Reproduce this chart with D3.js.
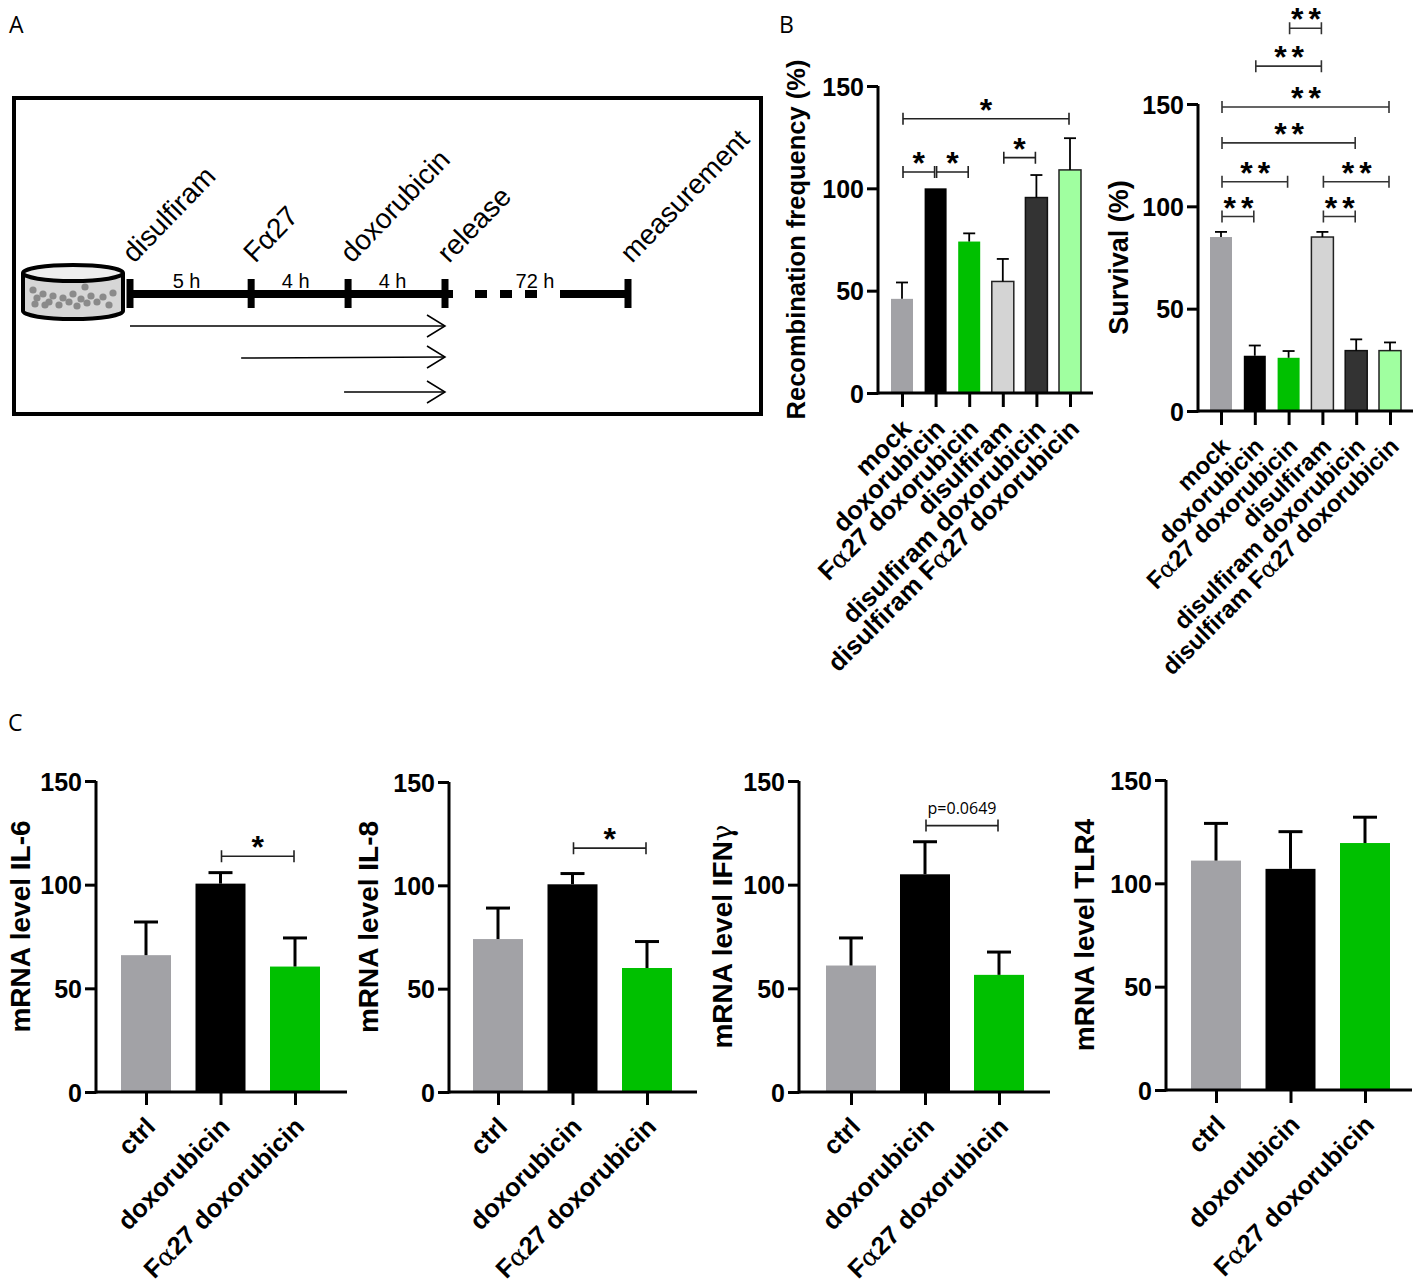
<!DOCTYPE html>
<meta charset="utf-8">
<style>
  body { margin: 0; background: #fff; }
  svg { font-family: "Liberation Sans", Arial, sans-serif; }
  .axis path, .axis line { stroke: #000; stroke-width: 3px; }
  .tick text { font-weight: bold; fill: #000; }
  .panel { font-family: "Open Sans", sans-serif; font-size: 23px; }
</style>
<body>
<script src="https://cdn.jsdelivr.net/npm/d3@7"></script>
<script>

// ---- data ----
var bCats = ["mock", "doxorubicin", "Fα27 doxorubicin", "disulfiram",
             "disulfiram doxorubicin", "disulfiram Fα27 doxorubicin"];
var bColors = ["#a2a2a6", "#000000", "#00c000", "#d4d4d4", "#333333", "#a0ffa0"];
var bStrokes = [null, null, null, "#222", "#111", "#222"];

var recombMean = [46, 100, 74, 54.5, 95.5, 109];
var recombSem = [8, 0, 4, 11, 11, 15.5];
var recombSig = [[0, 1, 108, "*"], [1, 2, 108, "*"], [3, 4, 115, "*"], [0, 5, 134, "*"]];

var survivalMean = [85, 27, 26, 85, 29.5, 29.5];
var survivalSem = [2.5, 5, 3.3, 2.5, 5.5, 4];
var survivalSig = [[0, 1, 95, "**"], [0, 2, 112, "**"], [0, 4, 131, "**"], [0, 5, 148.5, "**"],
                   [1, 3, 168.5, "**"], [2, 3, 187, "**"], [3, 4, 95, "**"], [3, 5, 112, "**"]];

var cCats = ["ctrl", "doxorubicin", "Fα27 doxorubicin"];
var cColors = ["#a2a2a6", "#000000", "#00c000"];
var il6Mean = [66, 100.5, 60.5],  il6Sem = [16, 5.3, 13.8];
var il8Mean = [74, 100.5, 60],    il8Sem = [15, 5.2, 12.8];
var ifngMean = [61, 105, 56.5],   ifngSem = [13.3, 15.7, 11];
var tlr4Mean = [111, 107, 119.5], tlr4Sem = [18, 18, 12.5];

var yTicks = [0, 50, 100, 150];

// timeline of panel A (hours)
var steps = [
  {name: "disulfiram", t: 0},
  {name: "Fα27", t: 5},
  {name: "doxorubicin", t: 9},
  {name: "release", t: 13}
];
var durations = ["5 h", "4 h", "4 h"];
var treatStart = [0, 5, 9];

var svg = d3.select("body").append("svg")
    .attr("width", 1420).attr("height", 1284);

// panel letters
svg.append("text").attr("class", "panel").attr("x", 9).attr("y", 33).text("A");
svg.append("text").attr("class", "panel").attr("x", 779).attr("y", 33).text("B");
svg.append("text").attr("class", "panel").attr("x", 8).attr("y", 731).text("C");

// write a label, putting greek letters in a serif face like the original
function greekText(sel, str) {
  var parts = str.split(/([αγ])/);
  parts.forEach(function(p) {
    if (p === "α" || p === "γ") {
      sel.append("tspan").style("font-family", "DejaVu Serif, serif")
          .style("font-weight", "normal").text(p);
    } else if (p) {
      sel.append("tspan").text(p);
    }
  });
}

// ---- panel A ----
function drawSchema() {
  var g = svg.append("g");
  g.append("rect").attr("x", 14).attr("y", 98).attr("width", 747).attr("height", 316)
      .attr("fill", "none").attr("stroke", "#000").attr("stroke-width", 4);

  // dish
  var cx = 73;
  g.append("path")
      .attr("d", "M23,273 L23,311 A50,8 0 0 0 123,311 L123,273")
      .attr("fill", "#d6d6d6").attr("stroke", "#000").attr("stroke-width", 4);
  g.append("ellipse").attr("cx", cx).attr("cy", 273).attr("rx", 50).attr("ry", 8)
      .attr("fill", "#eee").attr("stroke", "#000").attr("stroke-width", 4);
  var dots = [[-40, 290], [-36, 298], [-30, 294], [-24, 302], [-20, 296], [-14, 305],
              [-10, 298], [-4, 302], [0, 294], [4, 306], [8, 299], [14, 303], [18, 296],
              [24, 302], [30, 297], [36, 305], [40, 293], [-28, 305], [12, 287], [-38, 304]];
  g.selectAll(".dot").data(dots).enter().append("circle")
      .attr("cx", function(d) { return cx + d[0]; }).attr("cy", function(d) { return d[1]; })
      .attr("r", 3.6).attr("fill", "#8a8a8a");

  var x = d3.scaleLinear().domain([0, 13]).range([130, 445]);
  var xMeas = 628, ly = 294;

  g.append("line").attr("x1", x(0)).attr("x2", x(13) + 8).attr("y1", ly).attr("y2", ly)
      .attr("stroke", "#000").attr("stroke-width", 8);
  g.append("line").attr("x1", x(13) + 30).attr("x2", 546).attr("y1", ly).attr("y2", ly)
      .attr("stroke", "#000").attr("stroke-width", 8).attr("stroke-dasharray", "12,13");
  g.append("line").attr("x1", 560).attr("x2", xMeas).attr("y1", ly).attr("y2", ly)
      .attr("stroke", "#000").attr("stroke-width", 8);

  var tickX = steps.map(function(s) { return x(s.t); }).concat([xMeas]);
  g.selectAll(".tl").data(tickX).enter().append("line")
      .attr("x1", function(d) { return d; }).attr("x2", function(d) { return d; })
      .attr("y1", ly - 15).attr("y2", ly + 14)
      .attr("stroke", "#000").attr("stroke-width", 7);

  var names = steps.map(function(s) { return s.name; }).concat(["measurement"]);
  g.selectAll(".lab").data(names).enter().append("text")
      .attr("transform", function(d, i) { return "translate(" + (tickX[i] + 4) + ",264) rotate(-46)"; })
      .style("font-size", "28px").text(function(d) { return d; });

  g.selectAll(".dur").data(durations).enter().append("text")
      .attr("x", function(d, i) { return (x(steps[i].t) + x(steps[i + 1].t)) / 2 - 4; })
      .attr("y", 288).attr("text-anchor", "middle").style("font-size", "20px")
      .text(function(d) { return d; });
  g.append("text").attr("x", 535).attr("y", 288).attr("text-anchor", "middle")
      .style("font-size", "20px").text("72 h");

  // treatment arrows
  var ay = [326, 357, 392];
  treatStart.forEach(function(t, i) {
    var x1 = x(t) + (i === 1 ? -10 : (i === 2 ? -4 : 0)), x2 = x(13);
    g.append("line").attr("x1", x1).attr("x2", x2).attr("y1", ay[i] + (i === 1 ? 1 : 0)).attr("y2", ay[i])
        .attr("stroke", "#000").attr("stroke-width", 1.5);
    g.append("path")
        .attr("d", "M" + (x2 - 18) + "," + (ay[i] - 11) + " L" + x2 + "," + ay[i] + " L" + (x2 - 18) + "," + (ay[i] + 11))
        .attr("fill", "none").attr("stroke", "#000").attr("stroke-width", 1.5);
  });
}

// ---- bar chart ----
function barChart(o) {
  var g = svg.append("g");
  var x = d3.scalePoint().domain(o.cats).range(o.xr);
  var y = d3.scaleLinear().domain([0, 150]).range([o.y0, o.yTop]);
  var bw = o.bw;

  // bars
  g.selectAll(".bar").data(o.mean).enter().append("rect")
      .attr("x", function(d, i) { return x(o.cats[i]) - bw / 2; })
      .attr("y", function(d) { return y(d); })
      .attr("width", bw)
      .attr("height", function(d) { return o.y0 - y(d); })
      .attr("fill", function(d, i) { return o.colors[i]; })
      .attr("stroke", function(d, i) { return o.strokes ? (o.strokes[i] || "none") : "none"; })
      .attr("stroke-width", 1.5);

  // error bars (upper)
  o.mean.forEach(function(m, i) {
    if (!o.sem[i]) return;
    var cx = x(o.cats[i]), yt = y(m + o.sem[i]);
    g.append("line").attr("x1", cx).attr("x2", cx).attr("y1", y(m)).attr("y2", yt)
        .attr("stroke", "#000").attr("stroke-width", o.ew);
    g.append("line").attr("x1", cx - o.cap).attr("x2", cx + o.cap).attr("y1", yt).attr("y2", yt)
        .attr("stroke", "#000").attr("stroke-width", o.ew);
  });

  // axes
  var ya = g.append("g").attr("class", "axis").attr("transform", "translate(" + o.x0 + ",0)")
      .call(d3.axisLeft(y).tickValues(yTicks).tickSize(11).tickPadding(3).tickSizeOuter(0));
  ya.select(".domain").attr("d", "M0," + (o.y0 + 1.5) + "V" + o.yTop);
  ya.selectAll("text").style("font-size", o.tickFont + "px").attr("dy", "0.36em");

  var xa = g.append("g").attr("class", "axis").attr("transform", "translate(0," + o.y0 + ")")
      .call(d3.axisBottom(x).tickSize(o.xTick).tickSizeOuter(0).tickFormat(""));
  xa.select(".domain").attr("d", "M" + o.x0 + ",0H" + o.xEnd);
  xa.selectAll(".tick").append("text")
      .attr("transform", "translate(" + o.labDx + "," + o.labDy + ") rotate(-45)")
      .attr("text-anchor", "end").attr("dy", "0.35em")
      .style("font-size", o.labFont + "px")
      .each(function(d) { greekText(d3.select(this), d); });

  // axis title
  var t = g.append("text")
      .attr("transform", "translate(" + o.titleX + "," + ((o.y0 + o.yTop) / 2 + (o.titleDy || 0)) + ") rotate(-90)")
      .attr("text-anchor", "middle").style("font-weight", "bold")
      .style("font-size", o.titleFont + "px");
  greekText(t, o.title);

  // significance brackets
  (o.sig || []).forEach(function(s) {
    var xa1 = x(o.cats[s[0]]) + 1, xb = x(o.cats[s[1]]) - 1, yy = y(s[2]);
    g.append("path")
        .attr("d", "M" + xa1 + "," + (yy - 6) + "V" + (yy + 6) + "M" + xa1 + "," + yy + "H" + xb +
                   "M" + xb + "," + (yy - 6) + "V" + (yy + 6))
        .attr("fill", "none").attr("stroke", s[3] === "**" ? "#333" : "#222").attr("stroke-width", 1.6);
    if (s[3].indexOf("p=") === 0) {
      g.append("text").attr("x", (xa1 + xb) / 2).attr("y", yy - 12).attr("text-anchor", "middle")
          .style("font-size", "16px").style("font-family", "Open Sans, sans-serif").text(s[3]);
    } else {
      g.append("text").attr("x", (xa1 + xb) / 2 + (s[3] === "**" ? 3 : 0)).attr("y", yy + 2)
          .attr("text-anchor", "middle").style("font-weight", "bold")
          .style("font-size", "32px").style("letter-spacing", s[3] === "**" ? "5px" : "0px")
          .text(s[3]);
    }
  });
}

drawSchema();

var bBase = {cats: bCats, colors: bColors, strokes: bStrokes, bw: 22, cap: 6, ew: 1.8,
             tickFont: 25, xTick: 14, labDx: 4, labDy: 31};

barChart(Object.assign({}, bBase, {
  mean: recombMean, sem: recombSem, sig: recombSig, labFont: 25.5,
  x0: 878, xEnd: 1093, y0: 393, yTop: 86, xr: [902, 1070],
  title: "Recombination frequency (%)", titleX: 805, titleFont: 25.5
}));

barChart(Object.assign({}, bBase, {
  mean: survivalMean, sem: survivalSem, sig: survivalSig, labFont: 24,
  x0: 1198, xEnd: 1413, y0: 411, yTop: 104, xr: [1221, 1390],
  title: "Survival (%)", titleX: 1128, titleFont: 27
}));

var cBase = {cats: cCats, colors: cColors, bw: 50, cap: 12, ew: 3,
             tickFont: 25, labFont: 25.5, titleFont: 28, xTick: 13, labDx: 4, labDy: 30};

barChart(Object.assign({}, cBase, {
  mean: il6Mean, sem: il6Sem, sig: [[1, 2, 113.7, "*"]],
  x0: 96, xEnd: 347, y0: 1092, yTop: 781, xr: [146, 295],
  title: "mRNA level IL-6", titleX: 30, titleDy: -10
}));

barChart(Object.assign({}, cBase, {
  mean: il8Mean, sem: il8Sem, sig: [[1, 2, 118, "*"]],
  x0: 449, xEnd: 697, y0: 1092, yTop: 782, xr: [498, 647],
  title: "mRNA level IL-8", titleX: 378, titleDy: -10
}));

barChart(Object.assign({}, cBase, {
  mean: ifngMean, sem: ifngSem, sig: [[1, 2, 128.5, "p=0.0649"]],
  x0: 799, xEnd: 1050, y0: 1092, yTop: 781, xr: [851, 999],
  title: "mRNA level IFNγ", titleX: 732
}));

barChart(Object.assign({}, cBase, {
  mean: tlr4Mean, sem: tlr4Sem,
  x0: 1166, xEnd: 1412, y0: 1090, yTop: 780, xr: [1216, 1365],
  title: "mRNA level TLR4", titleX: 1094
}));

</script>
</body>
